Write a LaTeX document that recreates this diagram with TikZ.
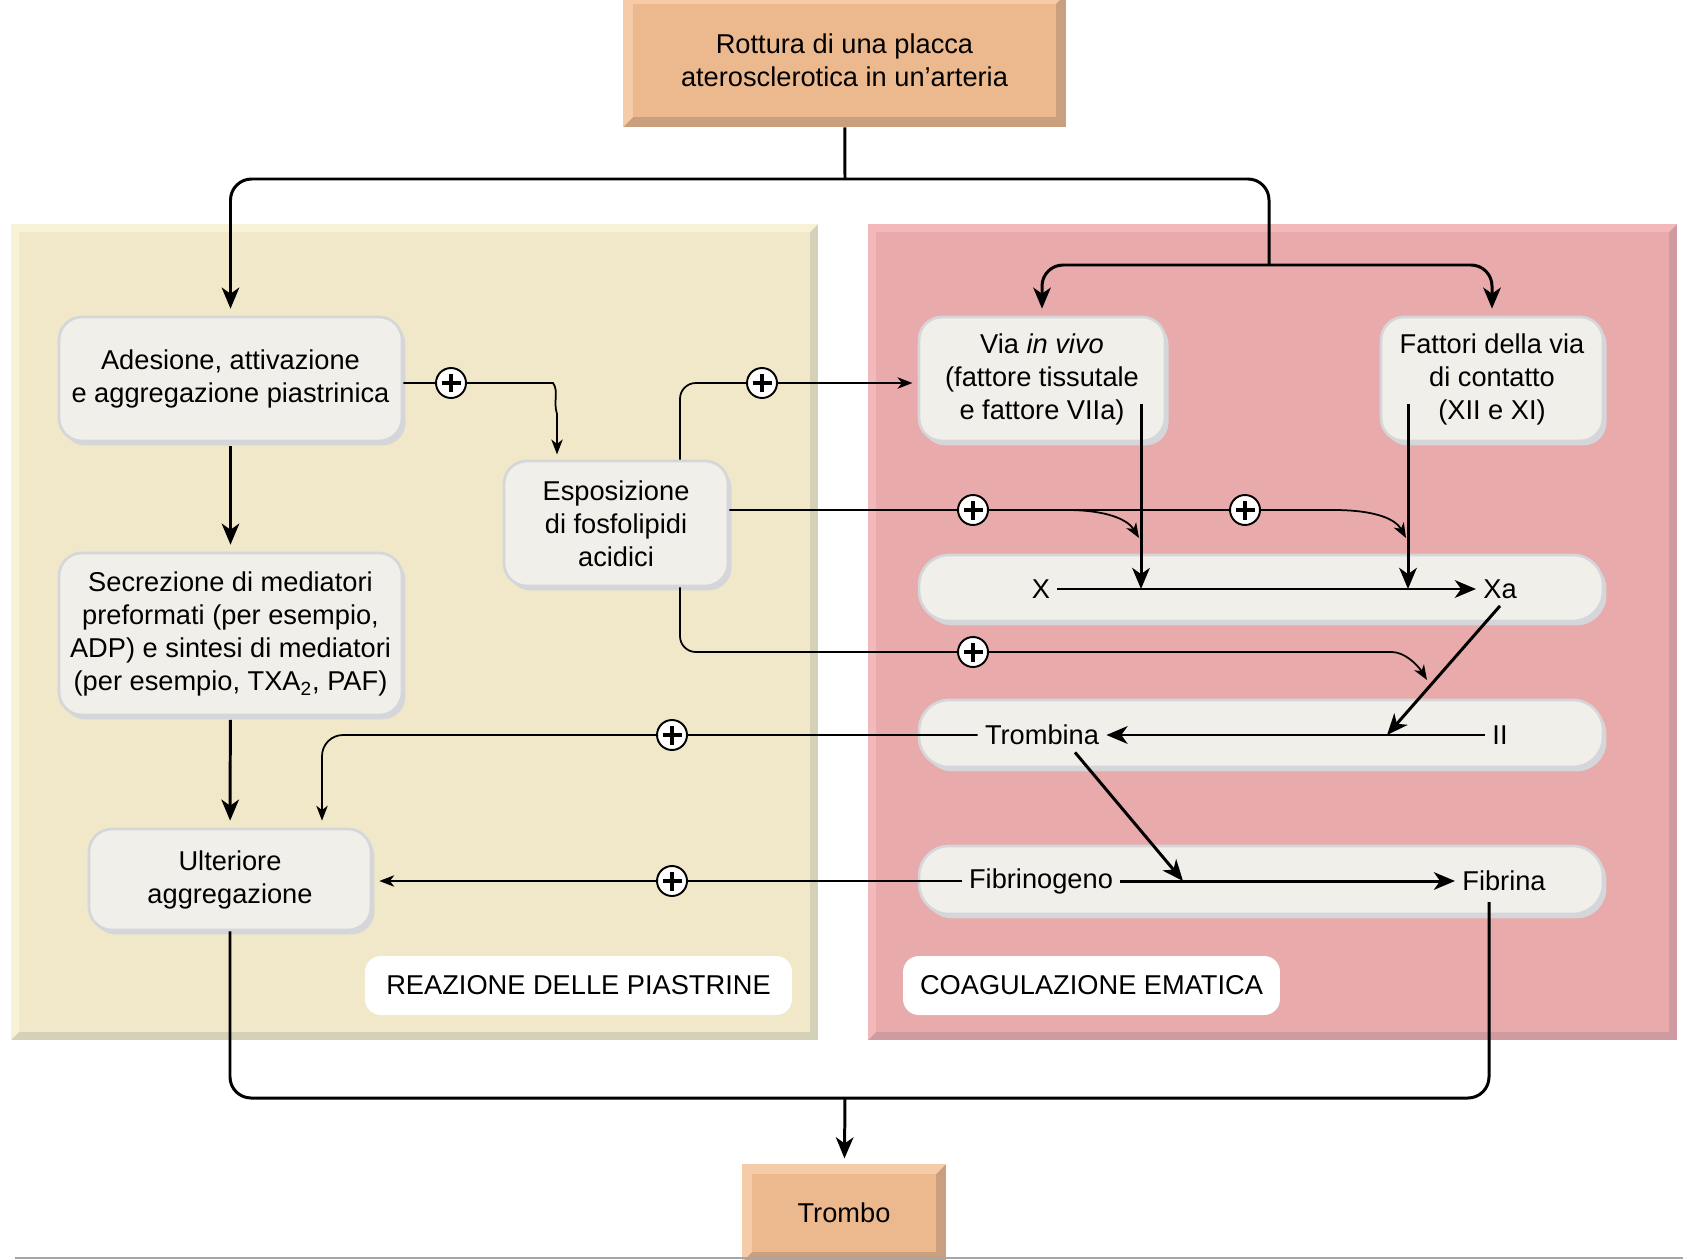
\documentclass[tikz,border=0pt]{standalone}
\usepackage{fontspec}
\setmainfont{Liberation Sans}
\usetikzlibrary{arrows.meta,shadows}

\definecolor{ormain}{HTML}{ECB98F}
\definecolor{orlight}{HTML}{F6CCA8}
\definecolor{ordark}{HTML}{C99F7F}
\definecolor{yemain}{HTML}{F0E8C8}
\definecolor{yelight}{HTML}{F7F2D5}
\definecolor{yedark}{HTML}{D5D1B8}
\definecolor{pimain}{HTML}{E8AAAA}
\definecolor{pilight}{HTML}{F3B9BA}
\definecolor{pidark}{HTML}{CF9BA1}
\definecolor{boxfill}{HTML}{F1EFEA}
\definecolor{boxedge}{HTML}{D5D6DA}

\begin{document}
\begin{tikzpicture}[x=0.02cm, y=-0.02cm, font=\fontsize{15.5}{18.8}\selectfont]
  \tikzset{bevel/.style n args={4}{fill=#3, inner sep=0pt, align=center, path picture={
      \fill[#1] (path picture bounding box.north west) -- (path picture bounding box.north east)
        -- ([shift={(-#4,-#4)}]path picture bounding box.north east)
        -- ([shift={(#4,-#4)}]path picture bounding box.north west)
        -- ([shift={(#4,#4)}]path picture bounding box.south west)
        -- (path picture bounding box.south west) -- cycle;
      \fill[#2] ([shift={(#4,-#4)}]path picture bounding box.north west)
        rectangle ([shift={(-#4,#4)}]path picture bounding box.south east);}}}
  \tikzset{proc/.style = {rounded corners=13pt, fill=boxfill, draw=boxedge, line width=1.5pt,
      align=center, inner sep=2pt, general shadow={fill=boxedge, shadow xshift=2pt, shadow yshift=-2.5pt}}}
  \tikzset{band/.style = {proc, rounded corners=17pt, minimum width=13.68cm}}
  \tikzset{tag/.style = {fill=white, rounded corners=9pt, minimum height=1.18cm, inner sep=0pt}}
  \tikzset{lbl/.style = {inner sep=4pt}}
  \tikzset{plusnode/.style = {circle, draw, fill=white, line width=1.1pt, minimum size=0.6cm, inner sep=0pt,
      path picture={\draw[line width=2.2pt]
        ([xshift=-0.19cm]path picture bounding box.center) -- ([xshift=0.19cm]path picture bounding box.center)
        ([yshift=-0.19cm]path picture bounding box.center) -- ([yshift=0.19cm]path picture bounding box.center);}}}
  \tikzset{wire/.style = {line width=1.7pt}}
  \tikzset{link/.style = {wire, -{Stealth[length=12pt,width=10pt,inset=3.5pt]}}}
  \tikzset{thinlink/.style = {line width=1pt, -{Stealth[length=8.5pt,width=6.5pt,inset=2.5pt]}}}

  \useasboundingbox (0,0) rectangle (1683,1260);

  % panels
  \node[bevel={yelight}{yemain}{yedark}{0.16cm}, minimum width=16.14cm, minimum height=16.32cm] (pia) at (414.5,632) {};
  \node[bevel={pilight}{pimain}{pidark}{0.16cm}, minimum width=16.18cm, minimum height=16.32cm] (coa) at (1272.5,632) {};
  \node[tag, minimum width=8.54cm] (tpia) at (578.5,985.5) {REAZIONE DELLE PIASTRINE};
  \node[tag, minimum width=7.54cm] (tcoa) at (1091.5,985.5) {COAGULAZIONE EMATICA};

  % start and end
  \node[bevel={orlight}{ormain}{ordark}{0.2cm}, minimum width=8.86cm, minimum height=2.66cm] (rot) at (844.5,60.5)
    {Rottura di una placca\\aterosclerotica in un'arteria};
  \node[bevel={orlight}{ormain}{ordark}{0.2cm}, minimum width=4.08cm, minimum height=1.96cm] (trb) at (844,1213) {Trombo};

  % platelets
  \node[proc, minimum width=6.86cm, minimum height=2.48cm] (ade) at (230.5,379)
    {Adesione, attivazione\\e aggregazione piastrinica};
  \node[proc, minimum width=6.86cm, minimum height=3.24cm] (sec) at (230.5,634)
    {Secrezione di mediatori\\preformati (per esempio,\\ADP) e sintesi di mediatori\\(per esempio, TXA\textsubscript{2}, PAF)};
  \node[proc, minimum width=5.64cm, minimum height=2.02cm] (ult) at (230,879.5) {Ulteriore\\aggregazione};
  \node[proc, minimum width=4.48cm, minimum height=2.5cm] (esp) at (616,523.5) {Esposizione\\di fosfolipidi\\acidici};

  % coagulation
  \node[proc, minimum width=4.92cm, minimum height=2.48cm] (via) at (1042,379)
    {Via \textit{in vivo}\\(fattore tissutale\\e fattore VIIa)};
  \node[proc, minimum width=4.44cm, minimum height=2.48cm] (fat) at (1492,379)
    {Fattori della via\\di contatto\\(XII e XI)};
  \node[band, minimum height=1.32cm] (bx) at (1261,588) {};
  \node[band, minimum height=1.34cm] (bt) at (1261,733.5) {};
  \node[band, minimum height=1.36cm] (bf) at (1261,880) {};
  \node[lbl] (x) at (1041,589) {X};
  \node[lbl] (xa) at (1500,589) {Xa};
  \node[lbl] (ii) at (1500,735) {II};
  \node[lbl] (tro) at (1042,735) {Trombina};
  \node[lbl] (fgn) at (1041,881) {Fibrinogeno};
  \node[lbl] (fib) at (1504,881) {Fibrina};

  % plus signs
  \node[plusnode] (pe) at (451,383) {};
  \node[plusnode] (pd) at (762,383) {};
  \node[plusnode] (pa) at (973,510) {};
  \node[plusnode] (pb) at (1245,510) {};
  \node[plusnode] (pc) at (973,652) {};
  \node[plusnode] (pf) at (672,735) {};
  \node[plusnode] (pg) at (672,881) {};

  \coordinate (split) at (845,179);
  \coordinate (splitc) at (1269,265);
  \coordinate (viaout) at (1141,404);
  \coordinate (fatout) at (1408,404);
  \coordinate (bra) at (1066,510);
  \coordinate (merge) at (845,1098);
  \coordinate (fibout) at (1489,902);

  % main flow
  \draw[wire] (rot) -- (split);
  \draw[link, rounded corners=12pt, shorten >=4pt] (split) -| (ade.north);
  \draw[wire, rounded corners=12pt] (split) -| (splitc);
  \draw[link, rounded corners=12pt, shorten >=4pt] (splitc) -| (via.north);
  \draw[link, rounded corners=12pt, shorten >=4pt] (splitc) -| (fat.north);
  \draw[link, shorten <=2pt, shorten >=4pt] (ade) -- (sec);
  \draw[link, shorten <=2pt, shorten >=4pt] (sec) -- (ult);
  \draw[wire, rounded corners=12pt] (ult.south) |- (merge) -| (fibout);
  \draw[link, shorten >=3pt] (merge) -- (trb);

  \draw[link] (viaout) -- (viaout |- x);
  \draw[link] (fatout) -- (fatout |- x);
  \draw[link] (x) -- (xa);
  \draw[link] (xa.south) -- (1387,0 |- ii);
  \draw[link] (ii) -- (tro);
  \draw[link] (tro.south -| 1075,0) -- (1183,0 |- fgn);
  \draw[link] (fgn) -- (fib);

  % positive feedback
  \draw[thinlink, shorten >=3pt] (ade.east |- pe) -- (pe) -- (553,383)
    .. controls (559,391) and (553,402) .. (557,414) -- (557,0 |- esp.north);
  \draw[thinlink, rounded corners=9pt, shorten >=3pt] (esp.north -| 680,0) |- (pd) -- (via.west |- pd);
  \draw[thinlink] (esp.east |- pa) -- (pa) -- (pb) -- (1333,510)
    .. controls (1378,510) and (1396,520) .. (1406,538);
  \draw[thinlink] (bra) .. controls (1108,510) and (1128,520) .. (1139,538);
  \draw[thinlink, rounded corners=9pt] (esp.south -| 680,0) |- (pc) -- (1376,652) [sharp corners]
    .. controls (1404,652) and (1417,664) .. (1427,680);
  \draw[thinlink, rounded corners=12pt, shorten >=4pt] (tro.west) -- (pf) -| (322,0 |- ult.north);
  \draw[thinlink, shorten >=4pt] (fgn.west) -- (pg) -- (ult.east |- pg);

  \draw[gray!70, line width=1.2pt] (15,1258) -- (1683,1258);
\end{tikzpicture}
\end{document}
